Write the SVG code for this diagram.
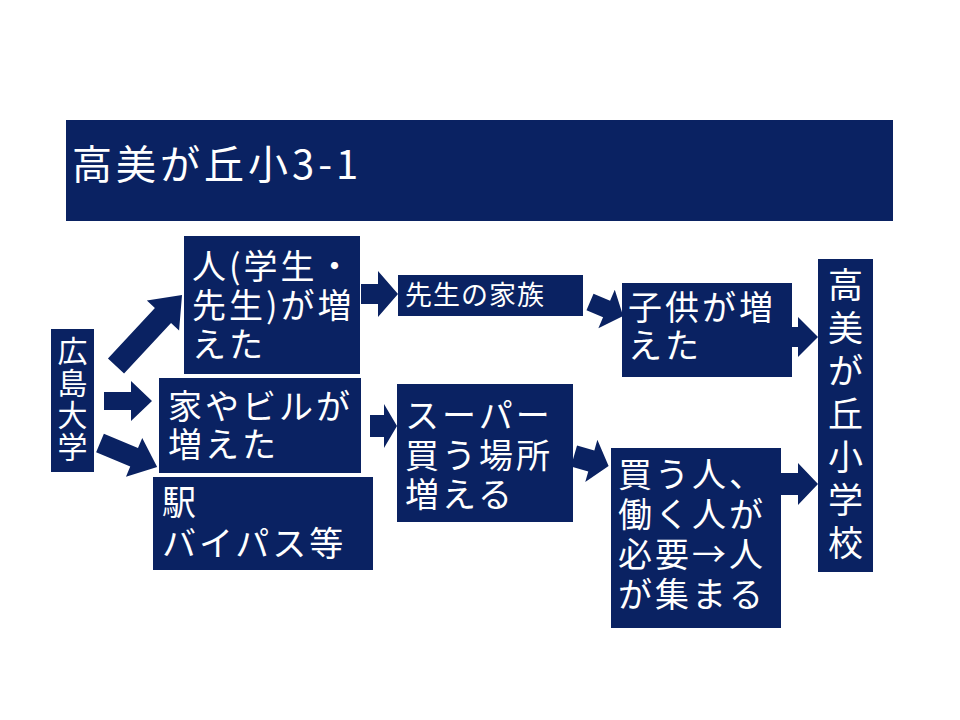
<svg xmlns="http://www.w3.org/2000/svg" width="960" height="720" viewBox="0 0 960 720">
<style>
.box{fill:#0a2262}
.arr{fill:#0a2262}
text{font-family:"Noto Sans CJK JP","Noto Sans",sans-serif;fill:#ffffff}
.t{font-size:34px;letter-spacing:3px}
.v{font-size:30px;text-anchor:middle}
.vb{font-size:35px;text-anchor:middle}
</style>
<rect width="960" height="720" fill="#ffffff"/>
<g id="title">
<rect class="box" x="66" y="120" width="827" height="101"/>
<text x="72" y="179" style="font-size:40px;letter-spacing:4px">高美が丘小3-1</text>
</g>
<g id="hiroshima">
<rect class="box" x="51" y="329" width="43" height="143"/>
<text class="v" x="72.5" y="362"><tspan x="72.5">広</tspan><tspan x="72.5" dy="32">島</tspan><tspan x="72.5" dy="32">大</tspan><tspan x="72.5" dy="32">学</tspan></text>
</g>
<g id="hito">
<rect class="box" x="184" y="236" width="176" height="138"/>
<text class="t" x="192" y="279"><tspan x="192">人(学生・</tspan><tspan x="192" dy="39">先生)が増</tspan><tspan x="192" dy="39">えた</tspan></text>
</g>
<g id="ie">
<rect class="box" x="159" y="378" width="202" height="95"/>
<text class="t" x="168" y="419"><tspan x="168">家やビルが</tspan><tspan x="168" dy="38">増えた</tspan></text>
</g>
<g id="eki">
<rect class="box" x="153" y="477" width="220" height="93"/>
<text class="t" x="162" y="515"><tspan x="162">駅</tspan><tspan x="162" dy="41">バイパス等</tspan></text>
</g>
<g id="kazoku">
<rect class="box" x="398" y="275" width="185" height="41"/>
<text x="405" y="305" style="font-size:27px;letter-spacing:1px">先生の家族</text>
</g>
<g id="super">
<rect class="box" x="397" y="384" width="176" height="138"/>
<text class="t" x="405" y="428"><tspan x="405">スーパー</tspan><tspan x="405" dy="40">買う場所</tspan><tspan x="405" dy="39">増える</tspan></text>
</g>
<g id="kodomo">
<rect class="box" x="622" y="283" width="170" height="94"/>
<text class="t" x="628" y="320"><tspan x="628">子供が増</tspan><tspan x="628" dy="38">えた</tspan></text>
</g>
<g id="kau">
<rect class="box" x="611" y="448" width="170" height="180"/>
<text class="t" x="618" y="487"><tspan x="618">買う人、</tspan><tspan x="618" dy="40">働く人が</tspan><tspan x="618" dy="40">必要→人</tspan><tspan x="618" dy="40">が集まる</tspan></text>
</g>
<g id="school">
<rect class="box" x="818" y="259" width="55" height="313"/>
<text class="vb" x="845.5" y="298"><tspan x="845.5">高</tspan><tspan x="845.5" dy="43">美</tspan><tspan x="845.5" dy="43">が</tspan><tspan x="845.5" dy="43">丘</tspan><tspan x="845.5" dy="43">小</tspan><tspan x="845.5" dy="43">学</tspan><tspan x="845.5" dy="43">校</tspan></text>
</g>
<g id="connectors">
<polygon class="arr" transform="translate(116,366) rotate(-47.1)" points="0,-11 69,-11 69,-22 97,0 69,22 69,11 0,11"/>
<polygon class="arr" transform="translate(104,401)" points="0,-9 27,-9 27,-20 48,0 27,20 27,9 0,9"/>
<polygon class="arr" transform="translate(100,443) rotate(22.8)" points="0,-10 37,-10 37,-21 62,0 37,21 37,10 0,10"/>
<polygon class="arr" transform="translate(361,294)" points="0,-10 17,-10 17,-23 37,0 17,23 17,10 0,10"/>
<polygon class="arr" transform="translate(370,426)" points="0,-11 14,-11 14,-22 27,0 14,22 14,11 0,11"/>
<polygon class="arr" transform="translate(590,302) rotate(23)" points="0,-9 18,-9 18,-21 36,0 18,21 18,9 0,9"/>
<polygon class="arr" transform="translate(574,456) rotate(16)" points="0,-11 18,-11 18,-22 36,0 18,22 18,11 0,11"/>
<polygon class="arr" transform="translate(792,337)" points="0,-10 6,-10 6,-20 26,0 6,20 6,10 0,10"/>
<polygon class="arr" transform="translate(781,484)" points="0,-11 17,-11 17,-21 37,0 17,21 17,11 0,11"/>
</g>
</svg>
